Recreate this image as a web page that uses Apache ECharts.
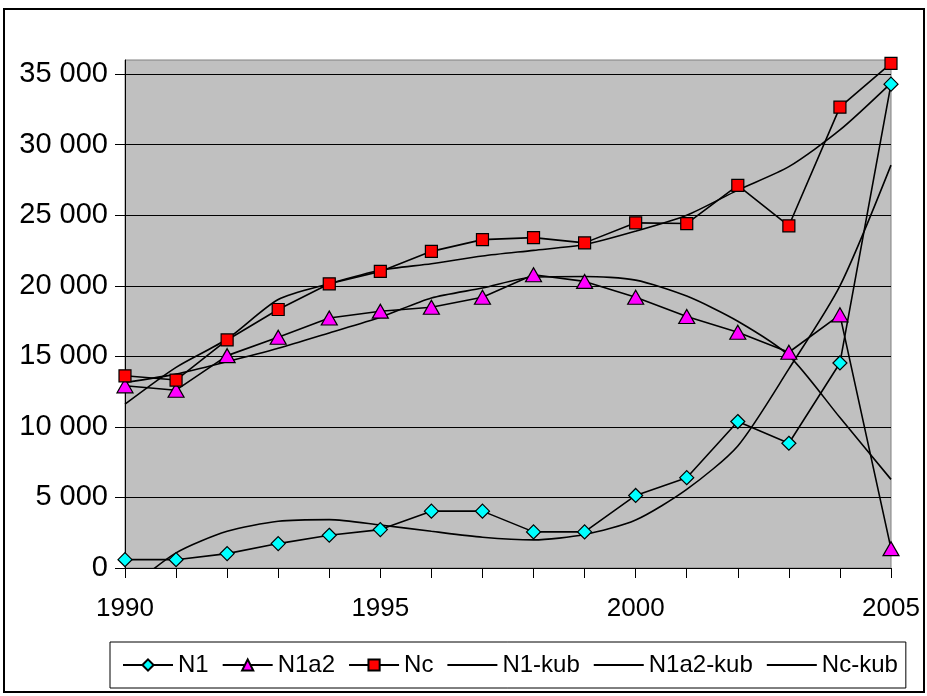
<!DOCTYPE html>
<html>
<head>
<meta charset="utf-8">
<script src="https://cdn.jsdelivr.net/npm/echarts@6/dist/echarts.min.js"></script>
<style>
html,body{margin:0;padding:0;background:#fff;}
#chart{width:927px;height:696px;}
</style>
</head>
<body>
<div id="chart"></div>
<script>
const years = [1990,1991,1992,1993,1994,1995,1996,1997,1998,1999,2000,2001,2002,2003,2004,2005];
const xTickLabels = ['1990','1995','2000','2005'];
const yTicks = [0,5000,10000,15000,20000,25000,30000,35000];
const yTickLabels = ['0','5 000','10 000','15 000','20 000','25 000','30 000','35 000'];

const N1     = [590,590,1020,1730,2320,2720,4030,4030,2560,2560,5140,6400,10380,8840,14530,34290];
const N1a2   = [12910,12600,15050,16350,17720,18200,18480,19190,20780,20310,19190,17820,16710,15290,17940,1370];
const Nc     = [13620,13320,16160,18320,20140,21020,22440,23270,23410,23040,24460,24410,27110,24250,32660,35760];
const N1kub   = [-1700,1070,2600,3310,3430,3050,2600,2180,1990,2370,3400,5570,8650,14110,19990,28550];
const N1a2kub = [13150,13740,14620,15570,16660,17770,19130,19840,20620,20660,20400,19270,17490,15050,10660,6280];
const Nckub   = [11610,14220,16230,19030,20150,21100,21560,22110,22510,22920,23870,25000,26780,28440,31040,34360];

const pairs = arr => years.map((y,i)=>[y,arr[i]]);
const FONT = '"Liberation Sans", Arial, sans-serif';

const lineStyle = {color:'#000', width:1.6};
const hiddenSym = {color:'rgba(0,0,0,0)', borderColor:'rgba(0,0,0,0)', borderWidth:0, opacity:0};
const chart = echarts.init(document.getElementById('chart'), null, {renderer:'canvas'});
chart.setOption({
  animation:false,
  backgroundColor:'#fff',
  graphic:[{type:'rect', shape:{x:4,y:9,width:920,height:683}, style:{fill:'none',stroke:'#000',lineWidth:2}, z:-1}],
  grid:{left:125,right:36,top:60,bottom:128,show:true,backgroundColor:'#c0c0c0',borderColor:'#808080',borderWidth:1},
  xAxis:{
    type:'value', min:1990, max:2005, interval:1,
    axisLine:{onZero:false,lineStyle:{color:'#000',width:1}},
    axisTick:{show:true,length:10,inside:false,lineStyle:{color:'#000'}},
    splitLine:{show:false},
    axisLabel:{
      margin:28, color:'#000', fontFamily:FONT, fontSize:26,
      formatter: v => { const s=String(v); return xTickLabels.indexOf(s)>=0 ? s : ''; }
    }
  },
  yAxis:{
    type:'value', min:0, max:36000, interval:5000,
    axisLine:{show:true,lineStyle:{color:'#000',width:1}},
    axisTick:{show:true,length:10,inside:false,lineStyle:{color:'#000'},customValues:yTicks},
    splitLine:{show:true,lineStyle:{color:'#000',width:1}},
    axisLabel:{
      margin:17, color:'#000', fontFamily:FONT, fontSize:29, customValues:yTicks,
      formatter: v => { const i=yTicks.indexOf(v); return i>=0 ? yTickLabels[i] : ''; }
    }
  },
  legend:{
    left:110, bottom:8, orient:'horizontal',
    borderColor:'#000', borderWidth:1, padding:[11,8,11,12],
    itemWidth:50, itemHeight:14, itemGap:13,
    textStyle:{fontFamily:FONT,fontSize:24,color:'#000'},
    data:['N1','N1a2','Nc',
      {name:'N1-kub',itemStyle:hiddenSym},
      {name:'N1a2-kub',itemStyle:hiddenSym},
      {name:'Nc-kub',itemStyle:hiddenSym}]
  },
  series:[
    {name:'N1-kub',type:'line',data:pairs(N1kub),symbol:'none',smooth:0.25,lineStyle:lineStyle,itemStyle:{color:'#000'},z:2},
    {name:'N1a2-kub',type:'line',data:pairs(N1a2kub),symbol:'none',smooth:0.25,lineStyle:lineStyle,itemStyle:{color:'#000'},z:2},
    {name:'Nc-kub',type:'line',data:pairs(Nckub),symbol:'none',smooth:0.25,lineStyle:lineStyle,itemStyle:{color:'#000'},z:2},
    {name:'N1',type:'line',data:pairs(N1),symbol:'diamond',symbolSize:14,lineStyle:lineStyle,
      itemStyle:{color:'#00ffff',borderColor:'#000',borderWidth:1.2},z:3},
    {name:'N1a2',type:'line',data:pairs(N1a2),symbol:'triangle',symbolSize:[16,14],lineStyle:lineStyle,
      itemStyle:{color:'#ff00ff',borderColor:'#000',borderWidth:1.2},z:3},
    {name:'Nc',type:'line',data:pairs(Nc),symbol:'rect',symbolSize:12,lineStyle:lineStyle,
      itemStyle:{color:'#ff0000',borderColor:'#000',borderWidth:1.2},z:3}
  ]
});
</script>
</body>
</html>
